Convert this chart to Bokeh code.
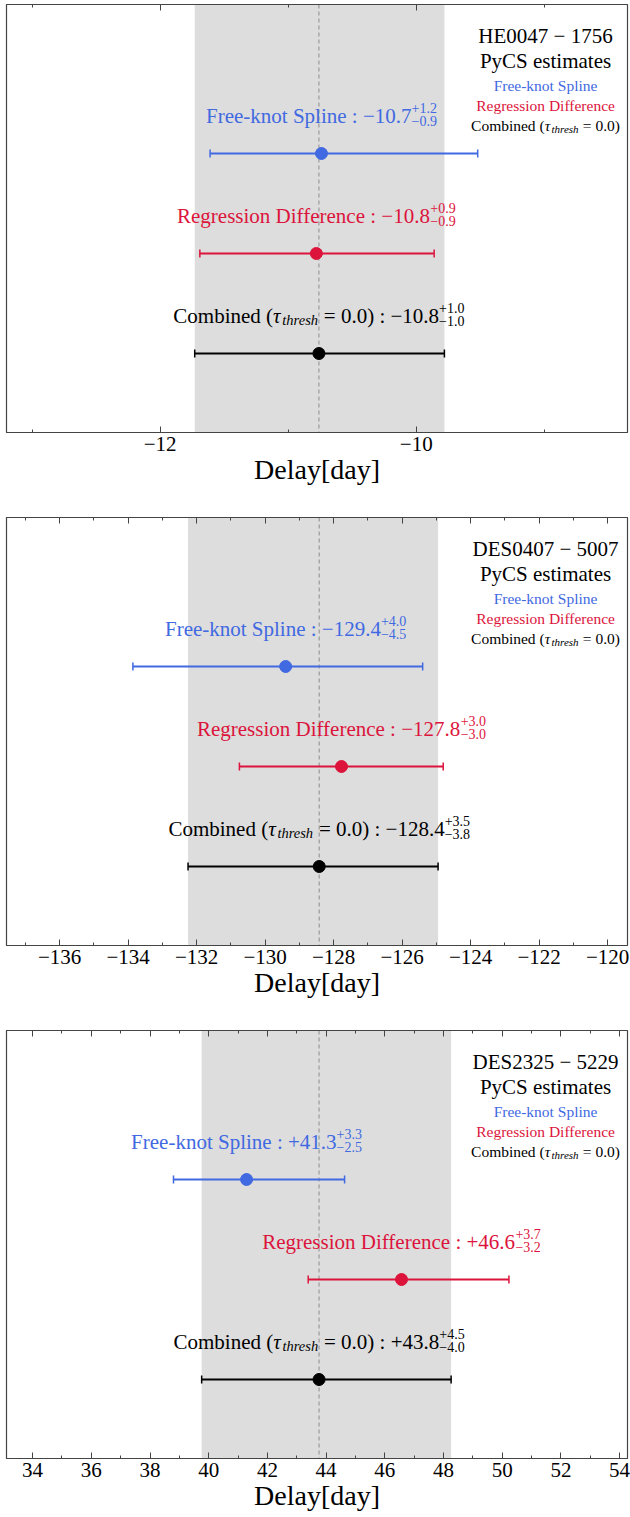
import numpy as np
from bokeh.plotting import figure
from bokeh.layouts import column
from bokeh.models import (ColumnDataSource, Whisker, TeeHead, BoxAnnotation, Span, Label,
                          LinearAxis, SingleIntervalTicker, CustomJSTickFormatter, Range1d)
from bokeh.embed import file_html
from bokeh.resources import INLINE

# lens systems and methods
lenses = ["HE0047 \u2212 1756", "DES0407 \u2212 5007", "DES2325 \u2212 5229"]
methods = ["Free-knot Spline", "Regression Difference", "Combined"]
colors = ["royalblue", "crimson", "black"]
rows = [3, 2, 1]

# delay estimates per lens: [spline, regdiff, combined]
delays = [[-10.74, -10.78, -10.76],
          [-129.40, -127.77, -128.42],
          [41.29, 46.57, 43.76]]
err_lo = [[0.87, 0.91, 0.97],
          [4.46, 2.98, 3.83],
          [2.49, 3.18, 4.00]]
err_hi = [[1.22, 0.92, 0.98],
          [4.00, 2.97, 3.47],
          [3.34, 3.66, 4.50]]
xlims = [(-13.2, -8.35), (-137.55, -119.42), (33.11, 54.27)]

FONT = "Liberation Serif"
FW, FH = 621, 428
Y0, Y1 = 0.21, 4.49

# rough Times metrics, used to centre the pieced-together labels
W_REG = {' ': 250, '(': 333, ')': 333, '+': 564, '-': 333, '.': 250, ':': 278, '=': 564,
         '\u2212': 564, 'C': 667, 'D': 722, 'F': 556, 'R': 667, 'S': 556,
         'a': 444, 'b': 500, 'c': 444, 'd': 500, 'e': 444, 'f': 333, 'g': 500, 'h': 500,
         'i': 278, 'k': 500, 'l': 278, 'm': 778, 'n': 500, 'o': 500, 'p': 500, 'r': 333,
         's': 389, 't': 278, 'u': 500, 'y': 500}
W_IT = {'t': 278, 'h': 500, 'r': 389, 'e': 444, 's': 389, '\u03c4': 440}


def tw(text, size, italic=False):
    table = W_IT if italic else W_REG
    return sum(table.get(c, W_REG.get(c, 500)) for c in text) * size / 1000


def rich(p, x, y, groups, color, lift=0):
    # groups: list of pieces drawn one after the other; pieces in a group share x (sup/sub)
    widths = [max(tw(t, s, it) for t, s, dy, it in g) for g in groups]
    cur = -sum(widths) / 2
    for g, w in zip(groups, widths):
        for t, s, dy, it in g:
            lead = len(t) - len(t.lstrip())
            p.add_layout(Label(x=x, y=y, x_offset=cur + tw(t[:lead], s, it), y_offset=lift + dy,
                               text=t.strip(), text_font=FONT, text_font_size=f"{s}px",
                               text_font_style="italic" if it else "normal",
                               text_color=color, text_align="left", text_baseline="alphabetic"))
        cur += w


def fmt(v):
    return ("+" if v >= 0 else "\u2212") + f"{abs(v):.1f}"


def ypx(px):
    # data y for a distance in pixels below the frame top
    return Y1 - px * (Y1 - Y0) / FH


def style_axis(ax, labels=True):
    ax.ticker = SingleIntervalTicker(interval=2, num_minor_ticks=2)
    ax.major_tick_in = 6
    ax.major_tick_out = 0
    ax.minor_tick_in = 3
    ax.minor_tick_out = 0
    ax.axis_line_color = "#444444"
    ax.major_tick_line_color = "#444444"
    ax.minor_tick_line_color = "#444444"
    if labels:
        ax.formatter = CustomJSTickFormatter(code="return (tick < 0 ? '\u2212' : '') + Math.abs(tick);")
        ax.major_label_text_font = FONT
        ax.major_label_text_font_size = "21px"
        ax.major_label_text_color = "black"
        ax.major_label_standoff = 4
    else:
        ax.major_label_text_font_size = "0px"
        ax.major_label_text_color = None
        ax.major_label_standoff = 0


panels = []
for i in range(3):
    xs, xe = xlims[i]
    last = i == 2
    p = figure(frame_width=FW, frame_height=FH, x_range=Range1d(xs, xe), y_range=Range1d(Y0, Y1),
               y_axis_location=None, toolbar_location=None, output_backend="svg",
               min_border_left=6, min_border_right=3, min_border_top=4,
               min_border_bottom=0 if last else 81)
    p.grid.grid_line_color = None
    p.outline_line_color = "#444444"
    p.outline_line_width = 1.2

    ax = p.xaxis[0]
    style_axis(ax)
    ax.axis_label = "Delay[day]"
    ax.axis_label_text_font = FONT
    ax.axis_label_text_font_size = "28px"
    ax.axis_label_text_font_style = "normal"
    ax.axis_label_text_color = "black"
    ax.axis_label_standoff = 0
    top = LinearAxis()
    style_axis(top, labels=False)
    p.add_layout(top, "above")

    d, lo, hi = delays[i], err_lo[i], err_hi[i]

    # combined estimate: shaded interval and dashed centre line
    p.add_layout(BoxAnnotation(left=d[2] - lo[2], right=d[2] + hi[2], fill_color="#dddddd",
                               fill_alpha=1.0, line_color=None, level="underlay"))
    p.add_layout(Span(location=d[2], dimension="height", line_color="#9a9a9a",
                      line_dash="4 3", line_width=1.2, level="underlay"))

    for k in range(3):
        src = ColumnDataSource(dict(base=[rows[k]], lower=[d[k] - lo[k]], upper=[d[k] + hi[k]]))
        w = Whisker(source=src, base="base", lower="lower", upper="upper", dimension="width",
                    line_color=colors[k], line_width=2)
        w.upper_head = TeeHead(size=8, line_color=colors[k], line_width=1.5)
        w.lower_head = TeeHead(size=8, line_color=colors[k], line_width=1.5)
        p.add_layout(w)

    source = ColumnDataSource(dict(x=d, y=rows, color=colors))
    p.scatter("x", "y", source=source, size=12, color="color")

    # value labels above each point
    for k in range(3):
        scripts = [("+" + f"{hi[k]:.1f}", 14, 8, False), ("\u2212" + f"{lo[k]:.1f}", 14, -5, False)]
        if k < 2:
            groups = [[(f"{methods[k]} : {fmt(d[k])}", 21, 0, False)], scripts]
        else:
            groups = [[("Combined (", 21, 0, False)], [("\u03c4", 21, 0, True)],
                      [("thresh", 14.5, -4, True)],
                      [(f" = 0.0) : {fmt(d[k])}", 21, 0, False)], scripts]
        rich(p, d[k], rows[k], groups, colors[k], lift=38)

    # title and legend block, top right
    lx = xs + 0.868 * (xe - xs)
    for txt, px in [(lenses[i], 31), ("PyCS estimates", 56)]:
        p.add_layout(Label(x=lx, y=ypx(px), text=txt, text_font=FONT, text_font_size="21px",
                           text_color="black", text_align="center", text_baseline="alphabetic"))
    for k, px in zip(range(2), [81, 101]):
        p.add_layout(Label(x=lx, y=ypx(px), text=methods[k], text_font=FONT,
                           text_font_size="15.5px", text_color=colors[k],
                           text_align="center", text_baseline="alphabetic"))
    rich(p, lx, ypx(121), [[("Combined (", 15.5, 0, False)], [("\u03c4", 15.5, 0, True)],
                           [("thresh", 11, -3, True)], [(" = 0.0)", 15.5, 0, False)]], "black")

    panels.append(p)

layout = column(*panels, spacing=0)
open("out.html", "w").write(file_html(layout, INLINE))
